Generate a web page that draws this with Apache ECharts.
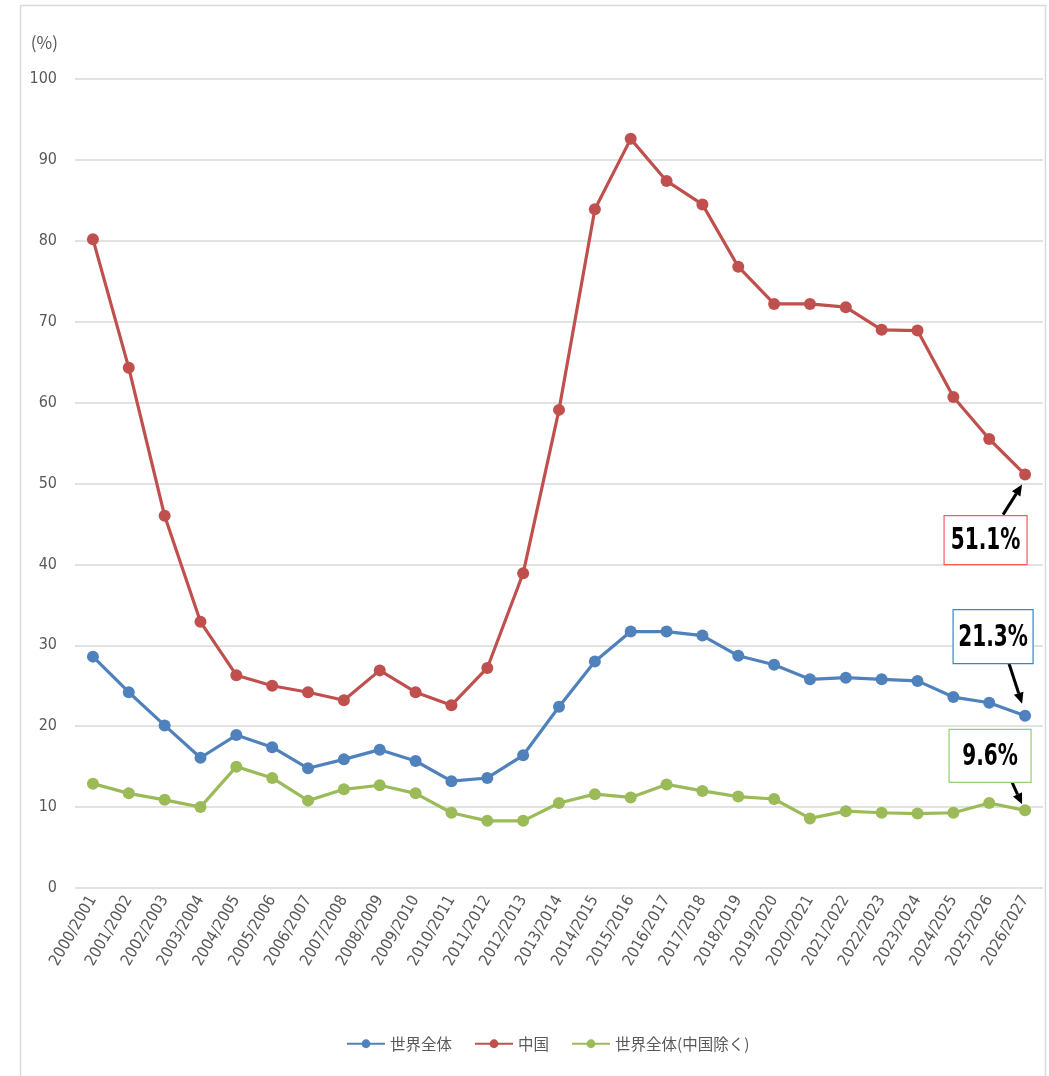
<!DOCTYPE html>
<html>
<head>
<meta charset="utf-8">
<script src="https://cdn.jsdelivr.net/npm/echarts@6/dist/echarts.min.js"></script>
<style>
  html, body { margin: 0; padding: 0; background: #fff; }
  #chart { width: 1049px; height: 1076px; }
</style>
</head>
<body>
<div id="chart"></div>
<script>
// Marketing years
const years = [
  '2000/2001','2001/2002','2002/2003','2003/2004','2004/2005','2005/2006','2006/2007',
  '2007/2008','2008/2009','2009/2010','2010/2011','2011/2012','2012/2013','2013/2014',
  '2014/2015','2015/2016','2016/2017','2017/2018','2018/2019','2019/2020','2020/2021',
  '2021/2022','2022/2023','2023/2024','2024/2025','2025/2026','2026/2027'
];

// Stock-to-use ratio (%)
const world = [
  28.6, 24.2, 20.1, 16.1, 18.9, 17.4, 14.8, 15.9, 17.1, 15.7, 13.2, 13.6, 16.4, 22.4,
  28.0, 31.7, 31.7, 31.2, 28.7, 27.6, 25.8, 26.0, 25.8, 25.6, 23.6, 22.9, 21.3
];
const china = [
  80.2, 64.3, 46.0, 32.9, 26.3, 25.0, 24.2, 23.2, 26.9, 24.2, 22.6, 27.2, 38.9, 59.1,
  83.9, 92.6, 87.4, 84.5, 76.8, 72.2, 72.2, 71.8, 69.0, 68.9, 60.7, 55.5, 51.1
];
const worldExChina = [
  12.9, 11.7, 10.9, 10.0, 15.0, 13.6, 10.8, 12.2, 12.7, 11.7, 9.3, 8.3, 8.3, 10.5,
  11.6, 11.2, 12.8, 12.0, 11.3, 11.0, 8.6, 9.5, 9.3, 9.2, 9.3, 10.5, 9.6
];

const seriesNames = ['世界全体', '中国', '世界全体(中国除く)'];
const seriesColors = ['#4F81BD', '#C0504D', '#9BBB59'];
const calloutBorders = ['#2B8AD6', '#FF5A5A', '#96D06C'];

const narrowFont = "'DejaVu Sans Condensed', Roboto, sans-serif";

const chart = echarts.init(document.getElementById('chart'), null, { renderer: 'canvas' });

function lineSeries(name, data, color) {
  return {
    name: name,
    type: 'line',
    data: data,
    symbol: 'circle',
    symbolSize: 12,
    lineStyle: { width: 3.2, color: color },
    itemStyle: { color: color },
    emphasis: { disabled: true },
    z: 3
  };
}

chart.setOption({
  animation: false,
  backgroundColor: '#fff',
  grid: { left: 75, right: 6, top: 79, bottom: 188 },
  legend: {
    data: seriesNames,
    left: 341,
    top: 1031,
    itemWidth: 38,
    itemHeight: 11,
    itemGap: 22,
    textStyle: { color: '#595959', fontSize: 15.5, fontFamily: 'Noto Sans CJK JP' }
  },
  xAxis: {
    type: 'category',
    data: years,
    boundaryGap: true,
    axisLine: { show: false },
    axisTick: { show: false },
    axisLabel: {
      rotate: 60,
      interval: 0,
      margin: 9,
      color: '#595959',
      fontSize: 16,
      fontFamily: narrowFont
    }
  },
  yAxis: {
    type: 'value',
    min: 0,
    max: 100,
    interval: 10,
    name: '(%)',
    nameLocation: 'end',
    nameGap: 28,
    nameTextStyle: {
      color: '#595959',
      fontSize: 17,
      fontFamily: 'Noto Sans CJK JP',
      align: 'right',
      padding: [0, 17, 0, 0]
    },
    axisLine: { show: false },
    axisTick: { show: false },
    axisLabel: {
      margin: 18,
      color: '#595959',
      fontSize: 16,
      fontFamily: narrowFont
    },
    splitLine: { lineStyle: { color: '#D9D9D9', width: 1.5 } }
  },
  series: [
    lineSeries(seriesNames[0], world, seriesColors[0]),
    lineSeries(seriesNames[1], china, seriesColors[1]),
    lineSeries(seriesNames[2], worldExChina, seriesColors[2])
  ]
});

// Arrow from (x1,y1) to (x2,y2) with a filled head at the end
function arrow(x1, y1, x2, y2) {
  const ang = Math.atan2(y2 - y1, x2 - x1);
  const len = 11, half = 5;
  const bx = x2 - len * Math.cos(ang), by = y2 - len * Math.sin(ang);
  const px = -Math.sin(ang) * half, py = Math.cos(ang) * half;
  return [
    { type: 'line', shape: { x1: x1, y1: y1, x2: bx, y2: by },
      style: { stroke: '#000', lineWidth: 3 }, z: 10 },
    { type: 'polygon', shape: { points: [[x2, y2], [bx + px, by + py], [bx - px, by - py]] },
      style: { fill: '#000' }, z: 10 }
  ];
}

// Callout for the last value of a series: box offset from the point, arrow pointing at it
function callout(seriesIndex, data, border, box, tail, head) {
  const last = data.length - 1;
  const p = chart.convertToPixel({ seriesIndex: seriesIndex }, [last, data[last]]);
  const bx = p[0] + box[0], by = p[1] + box[1];
  const els = [
    { type: 'rect', shape: { x: bx, y: by, width: box[2], height: box[3] },
      style: { fill: '#fff', stroke: border, lineWidth: 1.2 }, z: 11 },
    { type: 'text', x: bx + box[2] / 2, y: by + box[3] / 2 + 1, scaleX: 0.72,
      style: { text: data[last].toFixed(1) + '%', fill: '#000', fontSize: 31, fontWeight: 'bold',
               fontFamily: narrowFont, align: 'center', verticalAlign: 'middle' },
      z: 12 }
  ];
  return els.concat(arrow(p[0] + tail[0], p[1] + tail[1], p[0] + head[0], p[1] + head[1]));
}

const graphics = [
  { type: 'rect', shape: { x: 20.5, y: 5.5, width: 1025, height: 1100 },
    style: { fill: null, stroke: '#D9D9D9', lineWidth: 1.5 }, silent: true, z: 0 }
]
  .concat(callout(1, china, calloutBorders[1], [-81, 41, 83, 49], [-22, 40], [-3, 10]))
  .concat(callout(0, world, calloutBorders[0], [-72, -106, 80, 54], [-16, -52], [-3, -12]))
  .concat(callout(2, worldExChina, calloutBorders[2], [-76, -81, 82, 53], [-13, -28], [-3, -6]));

chart.setOption({ graphic: graphics });
</script>
</body>
</html>
